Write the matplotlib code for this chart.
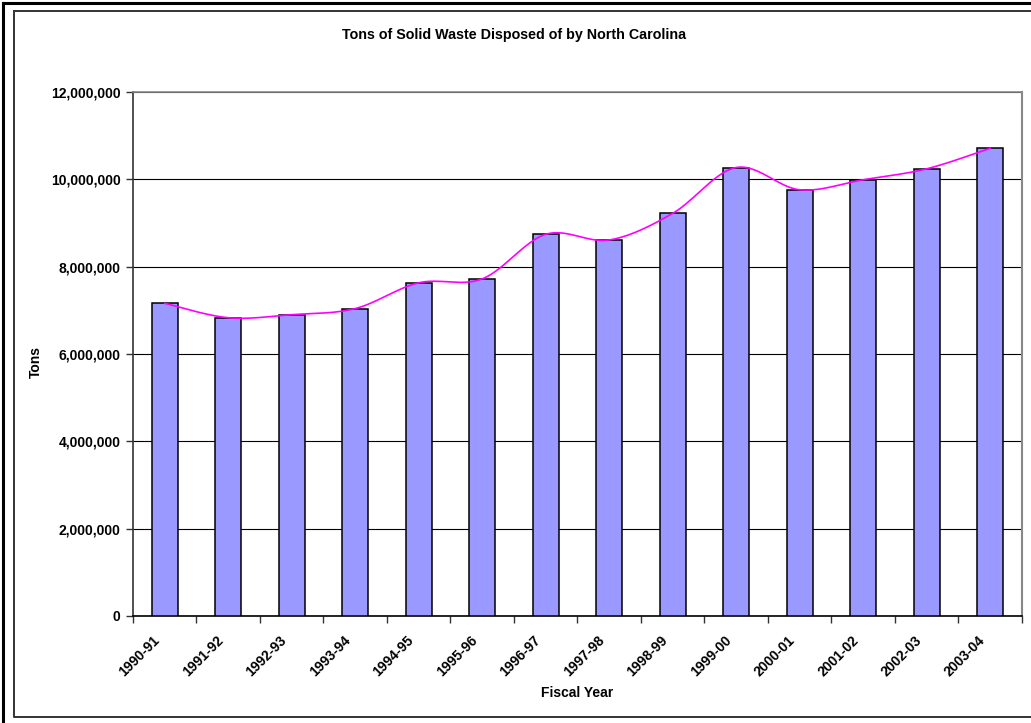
import numpy as np
import matplotlib
matplotlib.use("Agg")
import matplotlib.pyplot as plt
from matplotlib.lines import Line2D
from matplotlib.ticker import FuncFormatter, FixedLocator
from matplotlib.transforms import ScaledTranslation

plt.rcParams['font.family'] = ['Liberation Sans', 'DejaVu Sans']

# Fiscal years and tons disposed
years = ["1990-91", "1991-92", "1992-93", "1993-94", "1994-95", "1995-96", "1996-97",
         "1997-98", "1998-99", "1999-00", "2000-01", "2001-02", "2002-03", "2003-04"]
tons = [7160000, 6830000, 6900000, 7040000, 7630000, 7720000, 8740000,
        8610000, 9220000, 10270000, 9760000, 9990000, 10240000, 10710000]


def smooth_curve(x, y, steps=30):
    # Catmull-Rom style bezier through every point, like a spreadsheet "smoothed line"
    px = np.concatenate([[x[0]], x, [x[-1]]])
    py = np.concatenate([[y[0]], y, [y[-1]]])
    xs, ys = [], []
    t = np.linspace(0, 1, steps)
    for i in range(1, len(px) - 2):
        p0 = np.array([px[i], py[i]])
        p3 = np.array([px[i + 1], py[i + 1]])
        p1 = p0 + (np.array([px[i + 1], py[i + 1]]) - np.array([px[i - 1], py[i - 1]])) / 6
        p2 = p3 - (np.array([px[i + 2], py[i + 2]]) - np.array([px[i], py[i]])) / 6
        b = ((1 - t) ** 3)[:, None] * p0 + (3 * (1 - t) ** 2 * t)[:, None] * p1 \
            + (3 * (1 - t) * t ** 2)[:, None] * p2 + (t ** 3)[:, None] * p3
        xs.extend(b[:, 0])
        ys.extend(b[:, 1])
    return np.array(xs), np.array(ys)


fig = plt.figure(figsize=(10.31, 7.23), dpi=100)
ax = fig.add_axes([0.129, 0.148, 0.8622, 0.7248])

x = np.arange(len(years))
ax.bar(x, tons, width=0.41, color="#9999FF", edgecolor="black", linewidth=1.1, zorder=3)

sx, sy = smooth_curve(x.astype(float), np.array(tons, dtype=float))
ax.plot(sx, sy, color="#FF00FF", linewidth=1.2, zorder=4)

ax.set_xlim(-0.5, len(years) - 0.5)
ax.set_ylim(0, 12000000)
ax.set_yticks(np.arange(0, 12000001, 2000000))
ax.yaxis.set_major_formatter(FuncFormatter(lambda v, p: f"{int(v):,}"))
ax.yaxis.grid(True, color="black", linewidth=0.8, zorder=0)

# category boundaries carry the tick marks, labels sit under the bars
ax.xaxis.set_major_locator(FixedLocator(np.arange(-0.5, len(years), 1)))
ax.xaxis.set_major_formatter(FuncFormatter(lambda v, p: ""))
ax.set_xticks(x, minor=True)
ax.set_xticklabels(years, minor=True, rotation=45, ha="right", va="top",
                   rotation_mode="anchor", fontsize=10, fontweight="bold")
ax.tick_params(axis="x", which="minor", length=0, pad=9)
shift = ScaledTranslation(-0.12, -0.05, fig.dpi_scale_trans)
for lab in ax.get_xticklabels(minor=True):
    lab.set_transform(lab.get_transform() + shift)
ax.tick_params(axis="x", which="major", length=5, width=1, color="#333333")
ax.tick_params(axis="y", length=5, width=1, color="#333333", labelsize=10, pad=4)
for lab in ax.get_yticklabels():
    lab.set_fontweight("bold")

ax.spines["left"].set_color("#333333")
ax.spines["left"].set_linewidth(1.2)
ax.spines["bottom"].set_color("black")
ax.spines["bottom"].set_linewidth(1.2)
ax.spines["top"].set_color("#888888")
ax.spines["top"].set_linewidth(1.2)
ax.spines["right"].set_color("#888888")
ax.spines["right"].set_linewidth(1.5)

fig.text(514 / 1031, 1 - 35 / 723, "Tons of Solid Waste Disposed of by North Carolina",
         ha="center", va="center", fontsize=10.25, fontweight="bold")
fig.text(577 / 1031, 1 - 693 / 723, "Fiscal Year", ha="center", va="center",
         fontsize=10, fontweight="bold")
fig.text(36 / 1031, 1 - 362 / 723, "Tons", ha="center", va="center",
         rotation=90, fontsize=10, fontweight="bold")

# double frame around the chart
W, H = 1031, 723
def frame(x0, y0, x1, y1, lw, color):
    xs = [x0 / W, x1 / W, x1 / W, x0 / W, x0 / W]
    ys = [1 - y0 / H, 1 - y0 / H, 1 - y1 / H, 1 - y1 / H, 1 - y0 / H]
    fig.add_artist(Line2D(xs, ys, transform=fig.transFigure, color=color, linewidth=lw))

frame(2.5, 2.5, 1040, 740, 2.2, "black")
frame(13.5, 10.5, 1040, 717, 1.4, "#333333")

fig.savefig("out.png", dpi=100)
